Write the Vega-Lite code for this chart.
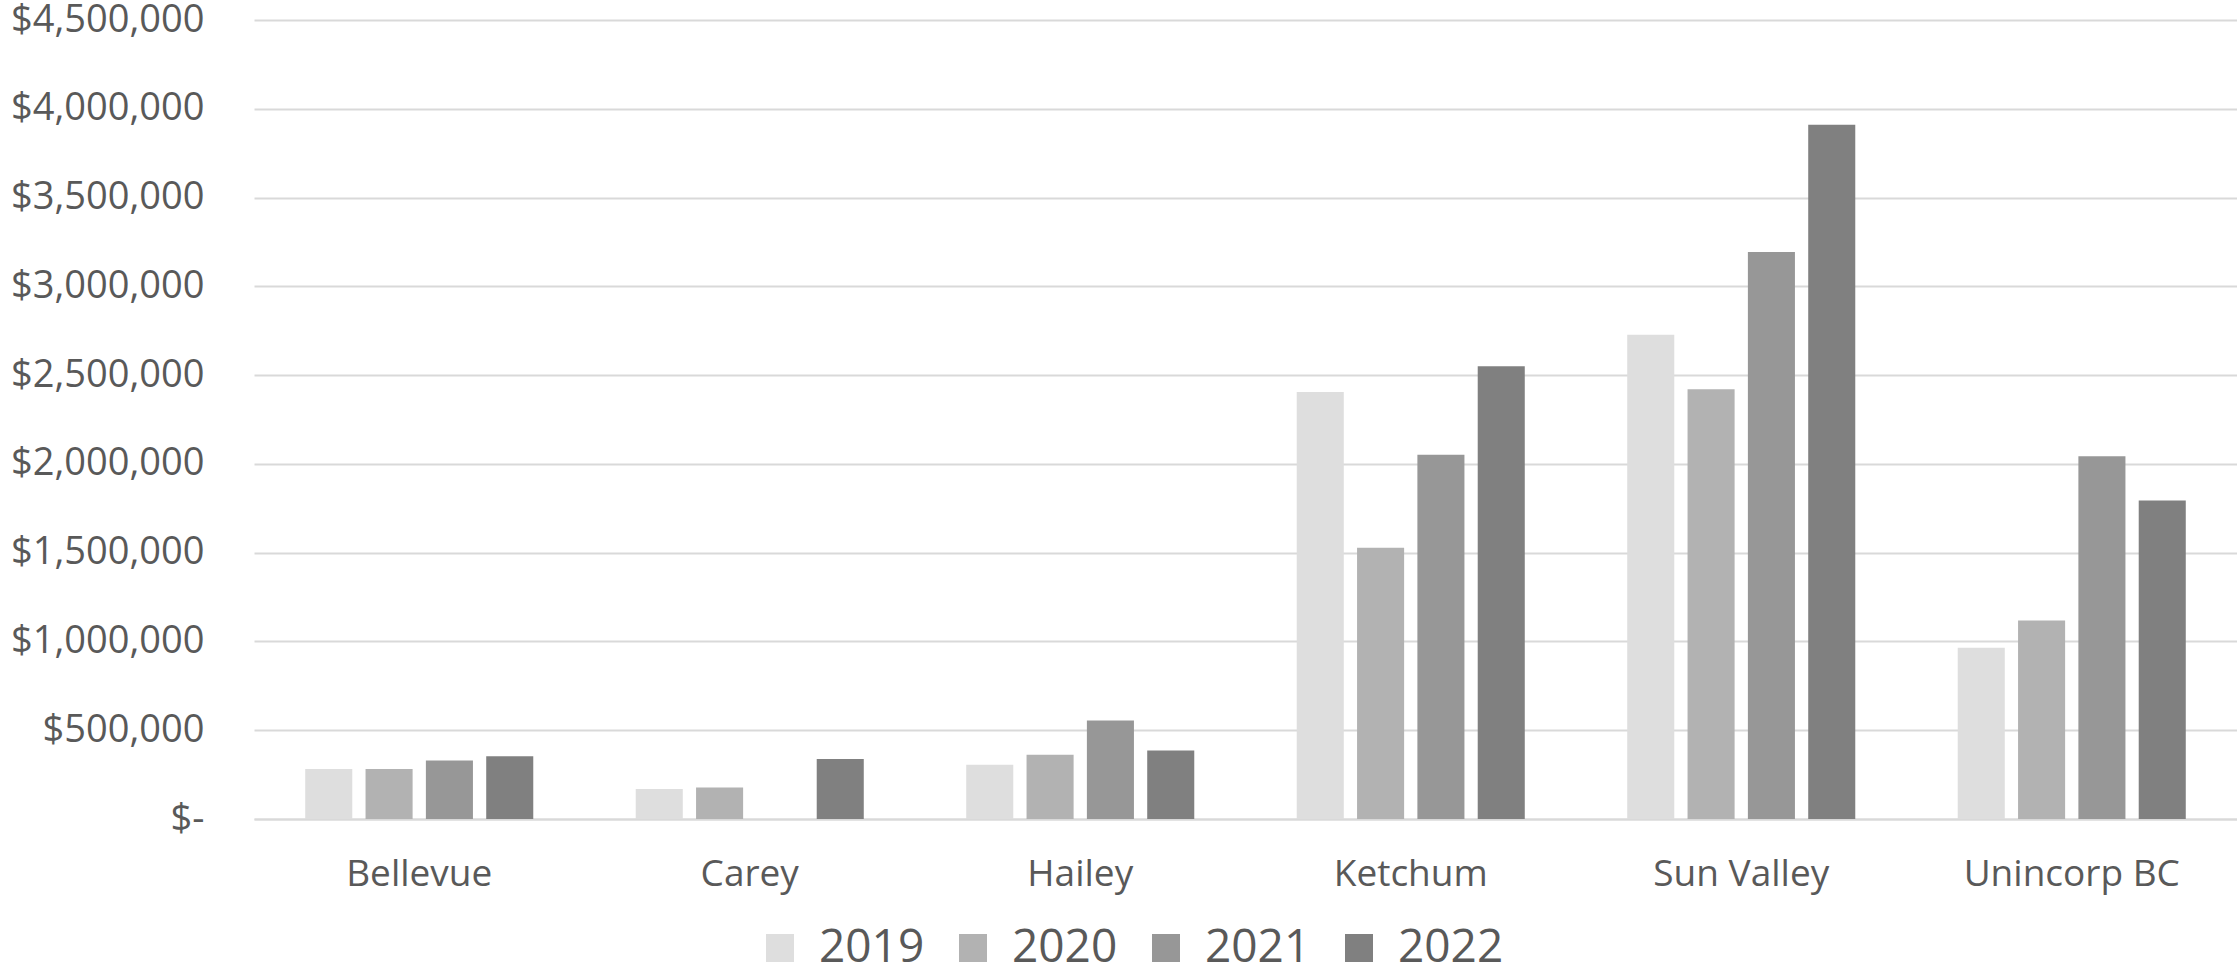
{
  "$schema": "https://vega.github.io/schema/vega-lite/v6.json",
  "width": 1983,
  "height": 799,
  "autosize": {"type": "none"},
  "padding": {"left": 254, "top": 20, "right": 0, "bottom": 158},
  "background": "white",
  "config": {
    "view": {"stroke": null},
    "font": "Open Sans"
  },
  "data": {
    "values": [
      {"city": "Bellevue", "year": "2019", "amount": 281000},
      {"city": "Bellevue", "year": "2020", "amount": 281000},
      {"city": "Bellevue", "year": "2021", "amount": 330000},
      {"city": "Bellevue", "year": "2022", "amount": 354000},
      {"city": "Carey", "year": "2019", "amount": 169000},
      {"city": "Carey", "year": "2020", "amount": 177000},
      {"city": "Carey", "year": "2021", "amount": 0},
      {"city": "Carey", "year": "2022", "amount": 338000},
      {"city": "Hailey", "year": "2019", "amount": 305000},
      {"city": "Hailey", "year": "2020", "amount": 362000},
      {"city": "Hailey", "year": "2021", "amount": 555000},
      {"city": "Hailey", "year": "2022", "amount": 386000},
      {"city": "Ketchum", "year": "2019", "amount": 2405000},
      {"city": "Ketchum", "year": "2020", "amount": 1528000},
      {"city": "Ketchum", "year": "2021", "amount": 2051000},
      {"city": "Ketchum", "year": "2022", "amount": 2550000},
      {"city": "Sun Valley", "year": "2019", "amount": 2727000},
      {"city": "Sun Valley", "year": "2020", "amount": 2421000},
      {"city": "Sun Valley", "year": "2021", "amount": 3193000},
      {"city": "Sun Valley", "year": "2022", "amount": 3910000},
      {"city": "Unincorp BC", "year": "2019", "amount": 965000},
      {"city": "Unincorp BC", "year": "2020", "amount": 1118000},
      {"city": "Unincorp BC", "year": "2021", "amount": 2043000},
      {"city": "Unincorp BC", "year": "2022", "amount": 1794000}
    ]
  },
  "mark": {"type": "bar"},
  "encoding": {
    "x": {
      "field": "city",
      "type": "nominal",
      "sort": null,
      "scale": {"paddingInner": 0.31, "paddingOuter": 0.155},
      "axis": {
        "title": null,
        "labelAngle": 0,
        "labelFontSize": 37,
        "labelColor": "#595959",
        "labelPadding": 37,
        "labelLimit": 0,
        "ticks": false,
        "domain": true,
        "domainColor": "#d9d9d9",
        "domainWidth": 2,
        "grid": false
      }
    },
    "xOffset": {
      "field": "year",
      "type": "nominal",
      "scale": {"paddingInner": 0.22, "paddingOuter": 0}
    },
    "y": {
      "field": "amount",
      "type": "quantitative",
      "scale": {"domain": [0, 4500000], "nice": false},
      "axis": {
        "title": null,
        "values": [0, 500000, 1000000, 1500000, 2000000, 2500000, 3000000, 3500000, 4000000, 4500000],
        "labelExpr": "datum.value == 0 ? '$-' : '$' + format(datum.value, ',')",
        "labelFontSize": 38,
        "labelColor": "#595959",
        "labelPadding": 50,
        "labelLimit": 0,
        "ticks": false,
        "domain": false,
        "grid": true,
        "gridColor": "#d9d9d9",
        "gridWidth": 2
      }
    },
    "color": {
      "field": "year",
      "type": "nominal",
      "scale": {
        "domain": ["2019", "2020", "2021", "2022"],
        "range": ["#dedede", "#b2b2b2", "#979797", "#808080"]
      },
      "legend": {
        "title": null,
        "orient": "none",
        "legendX": 503,
        "legendY": 905,
        "direction": "horizontal",
        "symbolType": "square",
        "symbolSize": 784,
        "symbolStrokeWidth": 0,
        "labelFontSize": 46,
        "labelColor": "#595959",
        "labelOffset": 16,
        "columnPadding": 25
      }
    }
  }
}
